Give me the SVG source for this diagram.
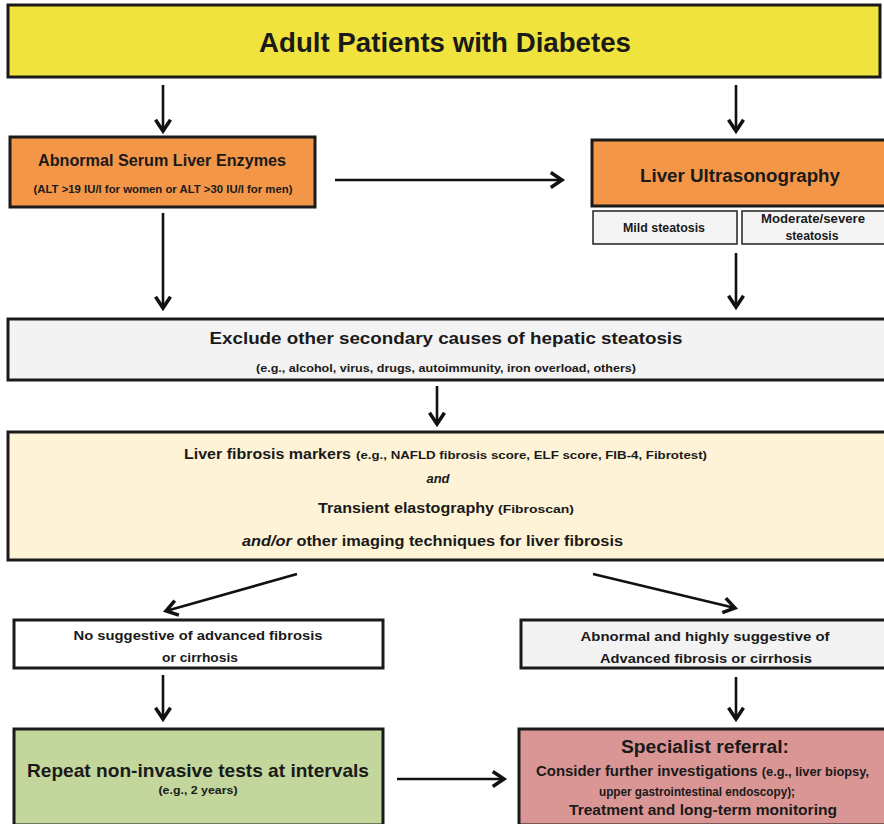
<svg xmlns="http://www.w3.org/2000/svg" width="884" height="824" viewBox="0 0 884 824">
<defs>
<marker id="ah" markerUnits="userSpaceOnUse" markerWidth="20" markerHeight="20" viewBox="-12 -8 14 16" refX="0" refY="0" orient="auto">
<path d="M-9,-6 L0,0 L-9,6" fill="none" stroke="#111" stroke-width="2.8" stroke-linejoin="miter"/>
</marker>
</defs>
<style>
.box{stroke:#1a1a1a;stroke-width:3}
.sub{stroke:#222;stroke-width:1.5;fill:#F4F4F4}
text{font-family:"Liberation Sans",Arial,sans-serif;font-weight:bold;fill:#1a1a1a}
.c{text-anchor:middle}
.it{font-style:italic}
.con{stroke:#111;stroke-width:2.6;fill:none;marker-end:url(#ah)}
</style>
<rect width="884" height="824" fill="#fff"/>

<g id="n-diabetes">
<rect class="box" x="8" y="5" width="872" height="72" fill="#F0E33D"/>
<text class="c" x="445" y="52" font-size="27" textLength="372" lengthAdjust="spacingAndGlyphs">Adult Patients with Diabetes</text>
</g>

<g id="n-enzymes">
<rect class="box" x="10" y="137" width="305" height="70" fill="#F39648"/>
<text class="c" x="162" y="166" font-size="16" textLength="248" lengthAdjust="spacingAndGlyphs">Abnormal Serum Liver Enzymes</text>
<text class="c" x="163" y="193" font-size="10.5" textLength="259" lengthAdjust="spacingAndGlyphs">(ALT &gt;19 IU/l for women or ALT &gt;30 IU/l for men)</text>
</g>

<g id="n-ultrasound">
<rect class="box" x="592" y="140" width="300" height="66" fill="#F39648"/>
<text class="c" x="740" y="182" font-size="18" textLength="200" lengthAdjust="spacingAndGlyphs">Liver Ultrasonography</text>
<rect class="sub" x="593" y="211" width="144" height="33"/>
<text class="c" x="664" y="232" font-size="12" textLength="82" lengthAdjust="spacingAndGlyphs">Mild steatosis</text>
<rect class="sub" x="742" y="211" width="150" height="33"/>
<text class="c" x="813" y="223" font-size="12" textLength="104" lengthAdjust="spacingAndGlyphs">Moderate/severe</text>
<text class="c" x="812" y="240" font-size="12" textLength="53" lengthAdjust="spacingAndGlyphs">steatosis</text>
</g>

<g id="n-exclude">
<rect class="box" x="8" y="319" width="880" height="61" fill="#F3F3F3"/>
<text class="c" x="446" y="344" font-size="17" textLength="473" lengthAdjust="spacingAndGlyphs">Exclude other secondary causes of hepatic steatosis</text>
<text class="c" x="446" y="372" font-size="10.5" textLength="380" lengthAdjust="spacingAndGlyphs">(e.g., alcohol, virus, drugs, autoimmunity, iron overload, others)</text>
</g>

<g id="n-fibrosis">
<rect class="box" x="8" y="432" width="880" height="128" fill="#FEF3D6"/>
<text x="184" y="459" font-size="15" textLength="167" lengthAdjust="spacingAndGlyphs">Liver fibrosis markers</text>
<text x="356" y="459" font-size="11.5" textLength="351" lengthAdjust="spacingAndGlyphs">(e.g., NAFLD fibrosis score, ELF score, FIB-4, Fibrotest)</text>
<text class="c it" x="438" y="483" font-size="13">and</text>
<text x="318" y="513" font-size="15" textLength="176" lengthAdjust="spacingAndGlyphs">Transient elastography</text>
<text x="498" y="513" font-size="11.5" textLength="76" lengthAdjust="spacingAndGlyphs">(Fibroscan)</text>
<text x="242" y="546" font-size="14.5" textLength="381" lengthAdjust="spacingAndGlyphs"><tspan class="it">and/or</tspan> other imaging techniques for liver fibrosis</text>
</g>

<g id="n-nosuggest">
<rect class="box" x="14" y="620" width="369" height="48" fill="#FFFFFF"/>
<text class="c" x="198" y="640" font-size="13.5" textLength="249" lengthAdjust="spacingAndGlyphs">No suggestive of advanced fibrosis</text>
<text class="c" x="200" y="662" font-size="13.5" textLength="76" lengthAdjust="spacingAndGlyphs">or cirrhosis</text>
</g>

<g id="n-abnormal">
<rect class="box" x="521" y="620" width="370" height="48" fill="#F3F3F3"/>
<text class="c" x="705" y="641" font-size="13.5" textLength="249" lengthAdjust="spacingAndGlyphs">Abnormal and highly suggestive of</text>
<text class="c" x="706" y="663" font-size="13.5" textLength="212" lengthAdjust="spacingAndGlyphs">Advanced fibrosis or cirrhosis</text>
</g>

<g id="n-repeat">
<rect class="box" x="14" y="729" width="369" height="96" fill="#C3D69B"/>
<text class="c" x="198" y="777" font-size="19" textLength="342" lengthAdjust="spacingAndGlyphs">Repeat non-invasive tests at intervals</text>
<text class="c" x="198" y="794" font-size="10.5" textLength="79" lengthAdjust="spacingAndGlyphs">(e.g., 2 years)</text>
</g>

<g id="n-specialist">
<rect class="box" x="519" y="729" width="372" height="96" fill="#D99694"/>
<text class="c" x="705" y="753" font-size="18" textLength="168" lengthAdjust="spacingAndGlyphs">Specialist referral:</text>
<text x="536" y="776" font-size="14" textLength="333" lengthAdjust="spacingAndGlyphs">Consider further investigations <tspan font-size="12">(e.g., liver biopsy,</tspan></text>
<text class="c" x="697" y="796" font-size="12" textLength="196" lengthAdjust="spacingAndGlyphs">upper gastrointestinal endoscopy);</text>
<text class="c" x="703" y="815" font-size="14" textLength="268" lengthAdjust="spacingAndGlyphs">Treatment and long-term monitoring</text>
</g>

<g id="connectors">
<line class="con" x1="163" y1="85" x2="163" y2="131"/>
<line class="con" x1="736" y1="85" x2="736" y2="131"/>
<line class="con" x1="335" y1="180" x2="562" y2="180"/>
<line class="con" x1="163" y1="213" x2="163" y2="308"/>
<line class="con" x1="736" y1="253" x2="736" y2="307"/>
<line class="con" x1="437" y1="386" x2="437" y2="424"/>
<line class="con" x1="297" y1="574" x2="166" y2="611"/>
<line class="con" x1="593" y1="574" x2="735" y2="608"/>
<line class="con" x1="163" y1="675" x2="163" y2="719"/>
<line class="con" x1="736" y1="677" x2="736" y2="719"/>
<line class="con" x1="397" y1="779" x2="504" y2="779"/>
</g>
</svg>
